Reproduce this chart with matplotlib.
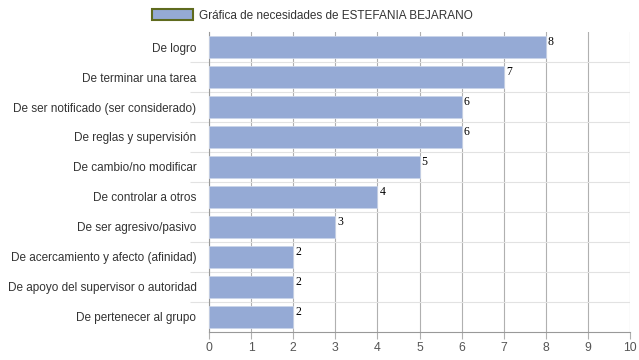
import matplotlib.pyplot as plt
from matplotlib.patches import Patch

categorias = [
    "De logro",
    "De terminar una tarea",
    "De ser notificado (ser considerado)",
    "De reglas y supervisión",
    "De cambio/no modificar",
    "De controlar a otros",
    "De ser agresivo/pasivo",
    "De acercamiento y afecto (afinidad)",
    "De apoyo del supervisor o autoridad",
    "De pertenecer al grupo",
]
valores = [8, 7, 6, 6, 5, 4, 3, 2, 2, 2]
ticks_x = list(range(0, 11))
titulo_serie = "Gráfica de necesidades de ESTEFANIA BEJARANO"

plt.rcParams["font.family"] = ["Liberation Sans", "DejaVu Sans"]

fig = plt.figure(figsize=(6.39, 3.6), dpi=100)
ax = fig.add_axes([0.327, 0.078, 0.659, 0.833])

pos = list(range(len(categorias)))
ax.barh(pos, valores, height=0.74, color="#95aad5", edgecolor="#c9d4ea",
        linewidth=0.6, zorder=3)

# etiquetas de valor
for y, v in zip(pos, valores):
    ax.text(v + 0.05, y - 0.38, str(v), family="Liberation Serif",
            fontsize=8.5, color="black", va="top", ha="left", zorder=4)

ax.set_xlim(0, 10)
ax.set_ylim(len(categorias) - 0.5, -0.5)
ax.set_xticks(ticks_x)
ax.set_yticks(pos)
ax.set_yticklabels(categorias)
ax.set_yticks([p + 0.5 for p in pos[:-1]], minor=True)

ax.grid(axis="x", color="#b0b0b0", linewidth=0.8, zorder=0)
ax.grid(axis="y", which="minor", color="#e2e2e2", linewidth=0.8, zorder=0)

ax.tick_params(axis="y", which="major", length=0, pad=9, labelsize=8.5, labelcolor="#333333")
ax.tick_params(axis="y", which="minor", length=14, color="#e2e2e2", width=0.8)
ax.tick_params(axis="x", length=5, color="#b0b0b0", labelsize=8.8, labelcolor="#555555", pad=2)

for lado in ["top", "right"]:
    ax.spines[lado].set_visible(False)
ax.spines["left"].set_color("#999999")
ax.spines["bottom"].set_color("#999999")
ax.spines["left"].set_linewidth(0.8)
ax.spines["bottom"].set_linewidth(0.8)

leyenda = Patch(facecolor="#95aad5", edgecolor="#5f6b1e", linewidth=1.5, label=titulo_serie)
fig.legend(handles=[leyenda], loc="center left", bbox_to_anchor=(0.222, 0.957),
           frameon=False, fontsize=8.5, handlelength=3.4, handleheight=1.0,
           handletextpad=0.5, labelcolor="#333333")

fig.savefig("out.png", dpi=100)
